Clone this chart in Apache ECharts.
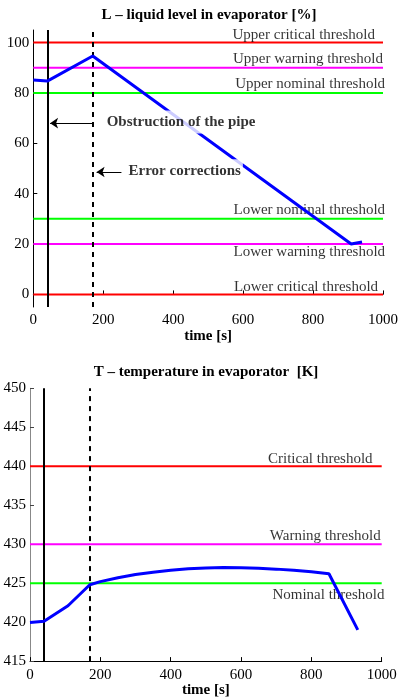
<!DOCTYPE html>
<html>
<head>
<meta charset="utf-8">
<script src="https://cdn.jsdelivr.net/npm/echarts@6/dist/echarts.min.js"></script>
<style>
html,body{margin:0;padding:0;background:#fff;}
#c{width:401px;height:699px;}
</style>
</head>
<body>
<div id="c"></div>
<script>
// ---------- DATA ----------
const levelTime  = [0, 40, 170, 909, 940];
const levelValue = [85.1, 84.7, 94.7, 20.0, 20.8];

const tempTime  = [0, 40, 108, 170, 200, 250, 300, 350, 400, 450, 500, 550, 600, 650, 700, 750, 800, 850, 932];
const tempValue = [419.95, 420.1, 422.1, 424.8, 425.2, 425.7, 426.1, 426.4, 426.65, 426.85, 426.95, 427.0, 426.97, 426.9, 426.8, 426.65, 426.45, 426.2, 419.0];

const eventTimes = [40, 170];

const levelThresholdNames  = ['Upper critical threshold', 'Upper warning threshold', 'Upper nominal threshold',
                              'Lower nominal threshold', 'Lower warning threshold', 'Lower critical threshold'];
const levelThresholdValues = [100, 90, 80, 30, 20, 0];

const tempThresholdNames  = ['Critical threshold', 'Warning threshold', 'Nominal threshold'];
const tempThresholdValues = [440, 430, 425];

const timeTicks  = [0, 200, 400, 600, 800, 1000];
const levelTicks = [0, 20, 40, 60, 80, 100];
const tempTicks  = [415, 420, 425, 430, 435, 440, 445, 450];

const annotationTexts = ['Obstruction of the pipe', 'Error corrections'];

const titleL = 'L \u2013 liquid level in evaporator [%]';
const titleT = 'T \u2013 temperature in evaporator  [K]';
const xName = 'time [s]';

// ---------- STYLE / LAYOUT ----------
const FONT = 'Liberation Serif';
const levelThresholdColors = ['#ff0000', '#ff00ff', '#00ff00', '#00ff00', '#ff00ff', '#ff0000'];
const tempThresholdColors  = ['#ff0000', '#ff00ff', '#00ff00'];
const levelLabelAnchors = [[977, 103.1], [1000, 93.3], [1006, 83.6], [1006, 33.6], [1006, 16.9], [986, 3.1]];
const tempLabelAnchors  = [[974, 440.87], [997, 431.07], [1008, 423.44]];
const annotationAnchors = [[204, 68.5], [266.7, 49.1]];
const annotationArrows  = [[[168, 68], [48, 68]], [[252, 48.6], [181, 48.6]]];

const levelRange = [-5, 105];
const tempRange  = [415, 450];
const timeRange  = [0, 1000];

function thresholdSeries(names, values, colors, xi) {
  return values.map((v, i) => ({
    type: 'line', name: names[i], xAxisIndex: xi, yAxisIndex: xi,
    data: [[timeRange[0], v], [timeRange[1], v]],
    symbol: 'none', z: 2, silent: true,
    lineStyle: {color: colors[i], width: 2}
  }));
}
function labelSeries(names, anchors, xi) {
  return {
    type: 'scatter', xAxisIndex: xi, yAxisIndex: xi, symbolSize: 0, z: 2, silent: true, clip: false,
    data: names.map((n, i) => ({name: n, value: anchors[i]})),
    label: {show: true, position: 'left', distance: 0, formatter: p => p.name,
            fontFamily: FONT, fontSize: 15, color: '#000'}
  };
}
function eventLines(xi) {
  return {
    type: 'line', xAxisIndex: xi, yAxisIndex: xi, data: [], silent: true,
    markLine: {
      silent: true, symbol: ['none', 'none'], z: 3, animation: false,
      label: {show: false},
      data: [
        {xAxis: eventTimes[0], lineStyle: {color: '#000', width: 2, type: 'solid'}},
        {xAxis: eventTimes[1], lineStyle: {color: '#000', width: 2, type: [5, 5]}}
      ]
    }
  };
}
function xAxisCfg(gi) {
  return {
    gridIndex: gi, type: 'value', min: timeRange[0], max: timeRange[1], interval: 200,
    axisLine: {lineStyle: {color: '#000', width: 1}},
    axisTick: {inside: true, length: 4, customValues: timeTicks, lineStyle: {color: '#000'}},
    splitLine: {show: false},
    axisLabel: {customValues: timeTicks, formatter: v => String(v),
                fontFamily: FONT, fontSize: 15, color: '#000', margin: 6},
    name: xName, nameLocation: 'middle', nameGap: 21,
    nameTextStyle: {fontFamily: FONT, fontSize: 15, fontWeight: 'bold', color: '#000'}
  };
}

const option = {
  animation: false,
  backgroundColor: '#fff',
  grid: [
    {left: 33.3, top: 30, width: 351.7, height: 277},
    {left: 30, top: 388.3, width: 351.7, height: 275}
  ],
  xAxis: [xAxisCfg(0), xAxisCfg(1)],
  yAxis: [
    {gridIndex: 0, type: 'value', min: levelRange[0], max: levelRange[1],
     axisLine: {show: true, lineStyle: {color: '#000', width: 1}},
     axisTick: {show: true, inside: true, length: 4, customValues: levelTicks, lineStyle: {color: '#000'}},
     splitLine: {show: false},
     axisLabel: {customValues: levelTicks, formatter: v => String(v),
                 fontFamily: FONT, fontSize: 15, color: '#000', margin: 4}},
    {gridIndex: 1, type: 'value', min: tempRange[0], max: tempRange[1], interval: 5,
     axisLine: {show: true, lineStyle: {color: '#888', width: 1}},
     axisTick: {show: true, inside: true, length: 4, customValues: tempTicks, lineStyle: {color: '#444'}},
     splitLine: {show: false},
     axisLabel: {customValues: tempTicks, formatter: v => String(v),
                 fontFamily: FONT, fontSize: 15, color: '#000', margin: 4}}
  ],
  graphic: [
    {type: 'text', x: 209, y: 15, z: 20,
     style: {text: titleL, fontFamily: FONT, fontSize: 15, fontWeight: 'bold', fill: '#000', align: 'center', verticalAlign: 'middle'}},
    {type: 'text', x: 206, y: 372, z: 20,
     style: {text: titleT, fontFamily: FONT, fontSize: 15, fontWeight: 'bold', fill: '#000', align: 'center', verticalAlign: 'middle'}}
  ],
  series: [
    ...thresholdSeries(levelThresholdNames, levelThresholdValues, levelThresholdColors, 0),
    ...thresholdSeries(tempThresholdNames, tempThresholdValues, tempThresholdColors, 1),
    labelSeries(levelThresholdNames, levelLabelAnchors, 0),
    labelSeries(tempThresholdNames, tempLabelAnchors, 1),
    eventLines(0),
    eventLines(1),
    {type: 'line', name: 'L', xAxisIndex: 0, yAxisIndex: 0, z: 6, symbol: 'none',
     data: levelTime.map((t, i) => [t, levelValue[i]]),
     lineStyle: {color: '#0000ff', width: 3}},
    {type: 'line', name: 'T', xAxisIndex: 1, yAxisIndex: 1, z: 6, symbol: 'none',
     data: tempTime.map((t, i) => [t, tempValue[i]]),
     lineStyle: {color: '#0000ff', width: 3}},
    {type: 'scatter', xAxisIndex: 0, yAxisIndex: 0, symbolSize: 0, z: 10, silent: true, clip: false,
     data: annotationTexts.map((n, i) => ({name: n, value: annotationAnchors[i]})),
     label: {show: true, position: 'right', distance: 0, formatter: p => p.name,
             fontFamily: FONT, fontSize: 15, fontWeight: 'bold', color: '#000',
             backgroundColor: '#fff', padding: [4, 2, 4, 2]},
     markLine: {
       silent: true, z: 10, animation: false, symbol: ['none', 'arrow'], symbolSize: 8,
       label: {show: false},
       lineStyle: {color: '#000', width: 1, type: 'solid'},
       data: annotationArrows.map(a => [{coord: a[0]}, {coord: a[1]}])
     }}
  ]
};

const chart = echarts.init(document.getElementById('c'), null, {renderer: 'canvas'});
chart.setOption(option);
</script>
</body>
</html>
